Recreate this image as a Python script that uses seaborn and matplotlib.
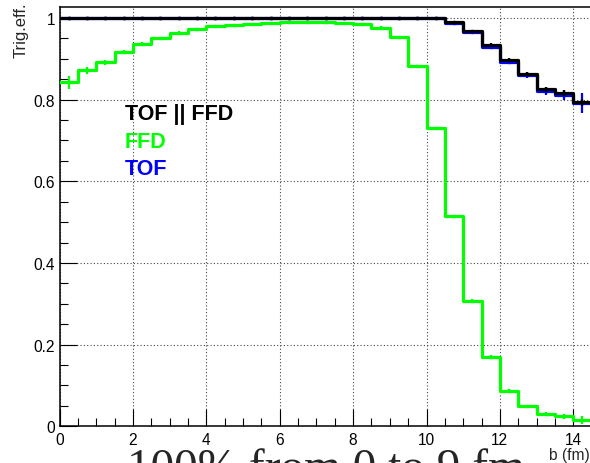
import numpy as np
import pandas as pd
import matplotlib
matplotlib.use("Agg")
import matplotlib.pyplot as plt
import seaborn as sns
from matplotlib.ticker import MultipleLocator, FixedLocator, FixedFormatter

# Impact-parameter binning (fm)
b_min, b_max, b_width = 0.0, 14.5, 0.5
b_centers = np.arange(b_min + b_width / 2, b_max, b_width)

# Trigger efficiency per impact-parameter bin
eff_ffd = [0.842, 0.872, 0.891, 0.916, 0.936, 0.951, 0.964, 0.972, 0.979, 0.983,
           0.985, 0.988, 0.990, 0.990, 0.990, 0.988, 0.986, 0.976, 0.953, 0.882,
           0.730, 0.514, 0.308, 0.170, 0.087, 0.049, 0.030, 0.024, 0.015]
err_ffd = [0.015, 0.009, 0.006, 0.005, 0.004, 0.003, 0.003, 0.003, 0.002, 0.002,
           0.002, 0.002, 0.002, 0.002, 0.002, 0.002, 0.002, 0.003, 0.003, 0.003,
           0.004, 0.004, 0.004, 0.004, 0.004, 0.004, 0.005, 0.007, 0.010]

eff_tof = [1.000, 1.000, 1.000, 1.000, 1.000, 1.000, 1.000, 1.000, 1.000, 1.000,
           1.000, 1.000, 1.000, 1.000, 1.000, 1.000, 1.000, 1.000, 1.000, 1.000,
           1.000, 0.988, 0.966, 0.930, 0.893, 0.861, 0.821, 0.811, 0.792]
err_tof = [0.002, 0.002, 0.002, 0.002, 0.002, 0.002, 0.002, 0.002, 0.002, 0.002,
           0.002, 0.002, 0.002, 0.002, 0.002, 0.002, 0.002, 0.002, 0.002, 0.002,
           0.002, 0.003, 0.004, 0.005, 0.006, 0.007, 0.010, 0.012, 0.024]

eff_or = [1.000, 1.000, 1.000, 1.000, 1.000, 1.000, 1.000, 1.000, 1.000, 1.000,
          1.000, 1.000, 1.000, 1.000, 1.000, 1.000, 1.000, 1.000, 1.000, 1.000,
          0.999, 0.989, 0.968, 0.934, 0.898, 0.863, 0.825, 0.816, 0.793]
err_or = [0.001, 0.001, 0.001, 0.001, 0.001, 0.001, 0.001, 0.001, 0.001, 0.001,
          0.001, 0.001, 0.001, 0.001, 0.001, 0.001, 0.001, 0.001, 0.001, 0.001,
          0.001, 0.002, 0.003, 0.004, 0.004, 0.005, 0.006, 0.007, 0.008]

x_ticks = [0, 2, 4, 6, 8, 10, 12, 14]
x_labels = ["0", "2", "4", "6", "8", "10", "12", "14"]
y_ticks = [0, 0.2, 0.4, 0.6, 0.8, 1.0]
y_labels = ["0", "0.2", "0.4", "0.6", "0.8", "1"]

series = [
    ("FFD", eff_ffd, err_ffd, "#00ff00"),
    ("TOF", eff_tof, err_tof, "#0000ff"),
    ("TOF || FFD", eff_or, err_or, "#000000"),
]

sns.set_theme(style="white")
plt.rcParams["font.family"] = ["Liberation Sans", "DejaVu Sans"]

dpi = 100
fig = plt.figure(figsize=(590 / dpi, 464 / dpi), dpi=dpi)
W, H = 590.0, 464.0
x0_px, top_px, bottom_px = 59.5, 8.3, 427.3
px_per_b = 36.7
ax = fig.add_axes([x0_px / W, 1 - bottom_px / H,
                   (b_max - b_min) * px_per_b / W, (bottom_px - top_px) / H])

df = pd.DataFrame({"b": b_centers, "ffd": eff_ffd, "tof": eff_tof, "or": eff_or})
col_of = {"FFD": "ffd", "TOF": "tof", "TOF || FFD": "or"}

for z, (name, vals, errs, color) in enumerate(series):
    sns.histplot(data=df, x="b", weights=col_of[name], binwidth=b_width,
                 binrange=(b_min, b_max), element="step", fill=False,
                 color=color, linewidth=2.3, ax=ax, zorder=3 + z)
    ax.errorbar(b_centers, vals, yerr=errs, fmt="s", color=color,
                markersize=1.6, elinewidth=1.6, capsize=0, zorder=3 + z)

ax.set_xlim(b_min, b_max)
ax.set_ylim(0, 1.026)

ax.xaxis.set_major_locator(FixedLocator(x_ticks))
ax.xaxis.set_major_formatter(FixedFormatter(x_labels))
ax.xaxis.set_minor_locator(MultipleLocator(0.5))
ax.yaxis.set_major_locator(FixedLocator(y_ticks))
ax.yaxis.set_major_formatter(FixedFormatter(y_labels))
ax.yaxis.set_minor_locator(MultipleLocator(0.05))

ax.tick_params(axis="both", which="both", direction="in", colors="black",
               labelsize=11.2, width=0.8, top=False, right=False,
               bottom=True, left=True)
ax.tick_params(axis="both", which="major", length=11.9)
ax.tick_params(axis="both", which="minor", length=6.1)
ax.tick_params(axis="x", which="major", pad=4)
ax.tick_params(axis="y", which="major", pad=3)

ax.grid(True, which="major", color="#444444", linestyle=(0, (1, 2)),
        linewidth=0.8)
ax.set_axisbelow(True)

for side in ["left", "bottom", "top"]:
    ax.spines[side].set_visible(True)
    ax.spines[side].set_color("black")
    ax.spines[side].set_linewidth(1.1)
ax.spines["right"].set_visible(False)

ax.set_xlabel("")
ax.set_ylabel("")
fig.text(590 / W, 1 - 448 / H, "b (fm)", ha="right", va="top", fontsize=11.2)
fig.text(21 / W, 1 - 2 / H, "Trig.eff.", rotation=90, ha="center", va="top",
         fontsize=12)

# Legend labels drawn as coloured text
legend_y = [0.7515, 0.683, 0.617]
for (name, _, _, color), yy in zip([series[2], series[0], series[1]], legend_y):
    ax.text(1.78, yy, name, color=color, fontsize=15.5, fontweight="bold",
            ha="left", va="baseline", zorder=10)

fig.text(325.5 / W, 1 - 481 / H, "100% from 0 to 9 fm", ha="center",
         va="baseline", fontsize=34, family=["Liberation Serif", "DejaVu Serif"])

fig.savefig("out.png", dpi=dpi)
